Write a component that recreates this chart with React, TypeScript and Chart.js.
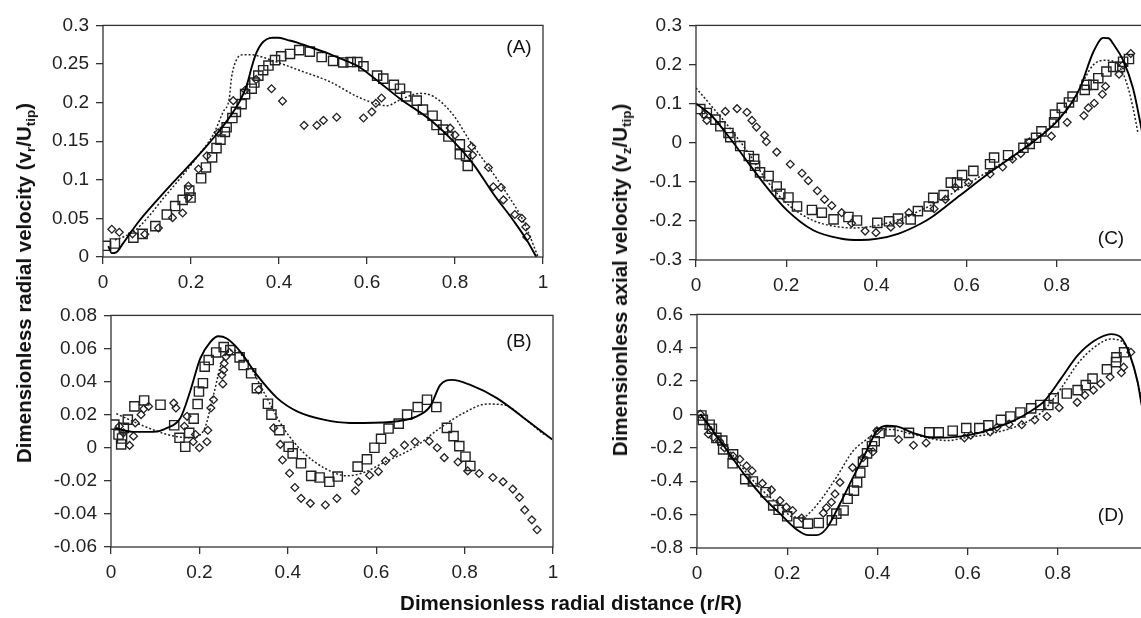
import React, { useEffect, useRef } from 'react';
import { Chart, registerables } from 'chart.js';

Chart.register(...registerables);

const FONT = '"Liberation Sans", Arial, Helvetica, sans-serif';

// ---------- tick values and labels ----------
const xTickValues = [0, 0.2, 0.4, 0.6, 0.8, 1];
const xTickLabels = ['0', '0.2', '0.4', '0.6', '0.8', '1'];
const aTickValues = [0, 0.05, 0.1, 0.15, 0.2, 0.25, 0.3];
const aTickLabels = ['0', '0.05', '0.1', '0.15', '0.2', '0.25', '0.3'];
const bTickValues = [-0.06, -0.04, -0.02, 0, 0.02, 0.04, 0.06, 0.08];
const bTickLabels = ['-0.06', '-0.04', '-0.02', '0', '0.02', '0.04', '0.06', '0.08'];
const cTickValues = [-0.3, -0.2, -0.1, 0, 0.1, 0.2, 0.3];
const cTickLabels = ['-0.3', '-0.2', '-0.1', '0', '0.1', '0.2', '0.3'];
const dTickValues = [-0.8, -0.6, -0.4, -0.2, 0, 0.2, 0.4, 0.6];
const dTickLabels = ['-0.8', '-0.6', '-0.4', '-0.2', '0', '0.2', '0.4', '0.6'];

// ---------- Panel A : radial velocity ----------
const aSqR = [0.007, 0.027, 0.069, 0.09, 0.119, 0.145, 0.164, 0.181, 0.196, 0.199, 0.223, 0.234, 0.248, 0.258, 0.267, 0.277, 0.281, 0.294, 0.302, 0.315, 0.323, 0.338, 0.344, 0.353, 0.364, 0.376, 0.391, 0.405, 0.425, 0.446, 0.47, 0.497, 0.523, 0.546, 0.563, 0.578, 0.592, 0.623, 0.637, 0.661, 0.675, 0.689, 0.713, 0.727, 0.749, 0.758, 0.773, 0.785, 0.811, 0.811, 0.825, 0.829];
const aSqV = [0.0145, 0.0175, 0.025, 0.03, 0.04, 0.055, 0.066, 0.074, 0.086, 0.077, 0.102, 0.116, 0.129, 0.141, 0.152, 0.162, 0.168, 0.18, 0.188, 0.198, 0.211, 0.218, 0.226, 0.235, 0.242, 0.248, 0.255, 0.26, 0.263, 0.268, 0.266, 0.259, 0.254, 0.252, 0.2525, 0.2525, 0.247, 0.235, 0.231, 0.223, 0.218, 0.208, 0.2025, 0.191, 0.183, 0.171, 0.165, 0.156, 0.146, 0.133, 0.131, 0.118];
const aDiR = [0.02, 0.037, 0.067, 0.095, 0.126, 0.158, 0.181, 0.194, 0.194, 0.217, 0.236, 0.262, 0.296, 0.323, 0.348, 0.383, 0.408, 0.457, 0.486, 0.501, 0.531, 0.592, 0.611, 0.62, 0.633, 0.789, 0.8, 0.838, 0.84, 0.876, 0.887, 0.905, 0.91, 0.936, 0.952, 0.961, 0.963];
const aDiV = [0.036, 0.032, 0.03, 0.0295, 0.0375, 0.051, 0.057, 0.077, 0.092, 0.114, 0.131, 0.161, 0.2025, 0.216, 0.23, 0.218, 0.202, 0.1705, 0.1705, 0.177, 0.181, 0.18, 0.188, 0.199, 0.206, 0.167, 0.158, 0.143, 0.132, 0.116, 0.091, 0.09, 0.074, 0.055, 0.05, 0.039, 0.026];
const aSolidR = [0.012, 0.02, 0.03, 0.046, 0.08, 0.122, 0.16, 0.198, 0.23, 0.258, 0.28, 0.296, 0.312, 0.327, 0.34, 0.349, 0.36, 0.372, 0.385, 0.398, 0.42, 0.44, 0.47, 0.501, 0.54, 0.577, 0.62, 0.675, 0.743, 0.796, 0.842, 0.887, 0.933, 0.963, 0.985];
const aSolidV = [0.014, 0.005, 0.006, 0.018, 0.045, 0.073, 0.097, 0.12, 0.14, 0.159, 0.175, 0.188, 0.203, 0.223, 0.25, 0.265, 0.276, 0.282, 0.284, 0.284, 0.281, 0.278, 0.272, 0.266, 0.257, 0.248, 0.23, 0.205, 0.178, 0.15, 0.12, 0.082, 0.047, 0.022, 0.0];
const aDotR = [0.027, 0.05, 0.07, 0.1, 0.14, 0.18, 0.22, 0.25, 0.273, 0.287, 0.292, 0.303, 0.319, 0.335, 0.349, 0.395, 0.455, 0.516, 0.577, 0.63, 0.645, 0.675, 0.72, 0.751, 0.796, 0.834, 0.872, 0.918, 0.955, 0.989];
const aDotV = [0.022, 0.027, 0.033, 0.05, 0.078, 0.105, 0.134, 0.158, 0.188, 0.2055, 0.232, 0.255, 0.262, 0.262, 0.261, 0.2525, 0.24, 0.227, 0.208, 0.197, 0.196, 0.2035, 0.212, 0.208, 0.184, 0.15, 0.12, 0.082, 0.047, 0.0];

// ---------- Panel B : radial velocity ----------
const bSqR = [0.0075, 0.017, 0.023, 0.025, 0.029, 0.038, 0.053, 0.075, 0.112, 0.143, 0.155, 0.168, 0.177, 0.187, 0.196, 0.199, 0.208, 0.212, 0.221, 0.238, 0.255, 0.27, 0.291, 0.3, 0.317, 0.33, 0.355, 0.363, 0.381, 0.402, 0.411, 0.43, 0.453, 0.472, 0.494, 0.513, 0.558, 0.579, 0.596, 0.611, 0.628, 0.651, 0.67, 0.694, 0.715, 0.736, 0.76, 0.775, 0.788, 0.802, 0.813];
const bSqV = [0.014, 0.008, 0.002, 0.0056, 0.012, 0.017, 0.025, 0.0286, 0.026, 0.0136, 0.006, 0.0006, 0.009, 0.0176, 0.0264, 0.034, 0.039, 0.049, 0.053, 0.0576, 0.0608, 0.059, 0.0546, 0.05, 0.045, 0.036, 0.0266, 0.02, 0.0106, 0.0006, -0.0034, -0.0094, -0.017, -0.018, -0.0206, -0.0174, -0.0114, -0.007, 0.0, 0.0054, 0.0116, 0.0146, 0.02, 0.0246, 0.029, 0.0246, 0.012, 0.007, 0.001, -0.0054, -0.011];
const bDiR = [0.019, 0.028, 0.042, 0.051, 0.055, 0.068, 0.074, 0.085, 0.142, 0.147, 0.166, 0.172, 0.186, 0.191, 0.2, 0.217, 0.219, 0.226, 0.232, 0.251, 0.253, 0.255, 0.256, 0.26, 0.268, 0.334, 0.368, 0.383, 0.388, 0.404, 0.416, 0.43, 0.451, 0.485, 0.511, 0.553, 0.56, 0.585, 0.605, 0.621, 0.64, 0.664, 0.688, 0.72, 0.738, 0.754, 0.785, 0.807, 0.833, 0.864, 0.887, 0.909, 0.924, 0.936, 0.952, 0.964];
const bDiV = [0.013, 0.009, 0.0014, 0.007, 0.015, 0.02, 0.0234, 0.025, 0.027, 0.024, 0.013, 0.019, 0.0036, 0.008, 0.0, 0.0036, 0.0106, 0.024, 0.029, 0.044, 0.0386, 0.047, 0.051, 0.055, 0.0576, 0.035, 0.012, 0.002, -0.0074, -0.0154, -0.024, -0.0306, -0.0336, -0.0346, -0.0306, -0.026, -0.0206, -0.0166, -0.0144, -0.008, -0.003, 0.0016, 0.0036, 0.004, 0.0, -0.006, -0.0086, -0.014, -0.0156, -0.018, -0.0206, -0.025, -0.03, -0.0376, -0.0436, -0.0496];
const bSolidR = [0.0075, 0.051, 0.096, 0.127, 0.157, 0.179, 0.202, 0.225, 0.243, 0.262, 0.293, 0.33, 0.376, 0.421, 0.481, 0.541, 0.572, 0.647, 0.692, 0.722, 0.745, 0.771, 0.813, 0.873, 0.934, 0.998];
const bSolidV = [0.012, 0.0096, 0.0096, 0.012, 0.018, 0.034, 0.054, 0.064, 0.0674, 0.066, 0.058, 0.044, 0.03, 0.022, 0.017, 0.015, 0.015, 0.016, 0.019, 0.025, 0.038, 0.041, 0.038, 0.03, 0.018, 0.005];
const bDotR = [0.012, 0.066, 0.127, 0.179, 0.209, 0.232, 0.251, 0.277, 0.308, 0.345, 0.39, 0.436, 0.481, 0.534, 0.572, 0.617, 0.685, 0.745, 0.798, 0.851, 0.888, 0.934, 0.979];
const bDotV = [0.0206, 0.014, 0.008, 0.006, 0.01, 0.032, 0.052, 0.059, 0.052, 0.034, 0.012, -0.003, -0.012, -0.017, -0.015, -0.009, 0.0, 0.012, 0.021, 0.0264, 0.026, 0.018, 0.008];

// ---------- Panel C : axial velocity ----------
const cSqR = [0.0095, 0.024, 0.043, 0.054, 0.072, 0.076, 0.098, 0.117, 0.129, 0.131, 0.142, 0.161, 0.179, 0.187, 0.205, 0.224, 0.257, 0.279, 0.305, 0.338, 0.357, 0.402, 0.428, 0.448, 0.476, 0.492, 0.516, 0.526, 0.549, 0.565, 0.579, 0.59, 0.615, 0.652, 0.661, 0.692, 0.726, 0.74, 0.754, 0.766, 0.794, 0.796, 0.811, 0.827, 0.835, 0.862, 0.866, 0.881, 0.892, 0.91, 0.925, 0.94, 0.947, 0.96];
const cSqV = [0.086, 0.076, 0.059, 0.042, 0.025, 0.014, -0.0085, -0.034, -0.042, -0.059, -0.076, -0.085, -0.112, -0.131, -0.14, -0.163, -0.172, -0.179, -0.196, -0.19, -0.199, -0.205, -0.201, -0.194, -0.196, -0.175, -0.163, -0.141, -0.134, -0.102, -0.102, -0.083, -0.072, -0.055, -0.038, -0.032, -0.013, -0.003, 0.0125, 0.029, 0.052, 0.072, 0.089, 0.103, 0.118, 0.135, 0.148, 0.148, 0.165, 0.182, 0.194, 0.194, 0.207, 0.214];
const cDiR = [0.017, 0.024, 0.065, 0.091, 0.113, 0.124, 0.134, 0.152, 0.156, 0.179, 0.209, 0.235, 0.249, 0.269, 0.285, 0.301, 0.323, 0.345, 0.375, 0.399, 0.432, 0.452, 0.472, 0.528, 0.553, 0.575, 0.604, 0.652, 0.68, 0.702, 0.72, 0.739, 0.788, 0.823, 0.86, 0.87, 0.883, 0.901, 0.908, 0.938, 0.947, 0.964];
const cDiV = [0.072, 0.057, 0.08, 0.087, 0.078, 0.057, 0.04, 0.019, 0.0025, -0.024, -0.055, -0.078, -0.097, -0.123, -0.145, -0.161, -0.179, -0.206, -0.226, -0.23, -0.216, -0.206, -0.179, -0.169, -0.145, -0.114, -0.102, -0.08, -0.062, -0.042, -0.028, 0.002, 0.0168, 0.052, 0.0693, 0.089, 0.101, 0.124, 0.144, 0.175, 0.199, 0.228];
const cSolidR = [0.0, 0.032, 0.069, 0.113, 0.157, 0.202, 0.26, 0.32, 0.364, 0.4, 0.448, 0.5, 0.528, 0.585, 0.659, 0.733, 0.807, 0.851, 0.881, 0.903, 0.915, 0.925, 0.947, 0.969, 0.986, 1.0];
const cSolidV = [0.1, 0.072, 0.021, -0.047, -0.114, -0.173, -0.224, -0.245, -0.249, -0.246, -0.233, -0.206, -0.186, -0.135, -0.07, -0.01, 0.063, 0.139, 0.232, 0.268, 0.267, 0.253, 0.211, 0.139, 0.046, -0.04];
const cDotR = [0.0, 0.032, 0.069, 0.113, 0.157, 0.202, 0.26, 0.32, 0.349, 0.4, 0.45, 0.5, 0.55, 0.6, 0.65, 0.7, 0.75, 0.8, 0.836, 0.858, 0.881, 0.907, 0.932, 0.954, 0.969, 0.98];
const cDotV = [0.14, 0.097, 0.046, -0.021, -0.097, -0.156, -0.199, -0.216, -0.218, -0.212, -0.196, -0.172, -0.142, -0.107, -0.072, -0.036, 0.004, 0.058, 0.105, 0.156, 0.199, 0.211, 0.203, 0.156, 0.089, 0.025];

// ---------- Panel D : axial velocity ----------
const dSqR = [0.0098, 0.013, 0.028, 0.033, 0.043, 0.056, 0.058, 0.079, 0.08, 0.107, 0.124, 0.152, 0.169, 0.181, 0.2, 0.225, 0.246, 0.27, 0.299, 0.309, 0.325, 0.334, 0.348, 0.355, 0.362, 0.368, 0.377, 0.388, 0.394, 0.405, 0.429, 0.47, 0.515, 0.536, 0.567, 0.597, 0.626, 0.646, 0.674, 0.695, 0.717, 0.741, 0.761, 0.779, 0.791, 0.82, 0.844, 0.862, 0.877, 0.909, 0.929, 0.93, 0.947];
const dSqV = [-0.006, -0.032, -0.061, -0.085, -0.14, -0.156, -0.209, -0.292, -0.239, -0.387, -0.401, -0.466, -0.545, -0.571, -0.61, -0.648, -0.654, -0.65, -0.634, -0.594, -0.575, -0.505, -0.456, -0.407, -0.348, -0.283, -0.233, -0.19, -0.16, -0.111, -0.101, -0.11, -0.107, -0.107, -0.097, -0.081, -0.081, -0.065, -0.032, -0.012, 0.012, 0.037, 0.057, 0.057, 0.097, 0.126, 0.146, 0.176, 0.215, 0.271, 0.314, 0.343, 0.373];
const dDiR = [0.0075, 0.025, 0.036, 0.05, 0.061, 0.08, 0.095, 0.11, 0.122, 0.145, 0.165, 0.184, 0.198, 0.212, 0.232, 0.28, 0.287, 0.298, 0.306, 0.317, 0.345, 0.368, 0.39, 0.399, 0.447, 0.48, 0.508, 0.593, 0.607, 0.65, 0.665, 0.692, 0.72, 0.749, 0.776, 0.803, 0.843, 0.86, 0.879, 0.895, 0.916, 0.941, 0.946, 0.962];
const dDiV = [0.002, -0.117, -0.136, -0.16, -0.2, -0.249, -0.268, -0.308, -0.338, -0.413, -0.452, -0.516, -0.555, -0.575, -0.62, -0.591, -0.559, -0.526, -0.476, -0.407, -0.318, -0.259, -0.223, -0.097, -0.15, -0.184, -0.17, -0.14, -0.124, -0.105, -0.077, -0.058, -0.061, -0.032, -0.012, 0.041, 0.073, 0.116, 0.146, 0.185, 0.225, 0.25, 0.284, 0.373];
const dSolidR = [0.0075, 0.036, 0.073, 0.11, 0.147, 0.184, 0.221, 0.247, 0.265, 0.287, 0.317, 0.346, 0.376, 0.398, 0.42, 0.443, 0.48, 0.524, 0.576, 0.6, 0.65, 0.7, 0.74, 0.77, 0.807, 0.844, 0.881, 0.918, 0.94, 0.959, 0.977, 0.986, 1.0];
const dSolidV = [0.002, -0.101, -0.239, -0.377, -0.496, -0.594, -0.689, -0.723, -0.723, -0.683, -0.535, -0.377, -0.219, -0.101, -0.067, -0.071, -0.111, -0.14, -0.134, -0.125, -0.09, -0.04, 0.02, 0.08, 0.215, 0.354, 0.442, 0.482, 0.462, 0.363, 0.195, 0.057, -0.1];
const dDotR = [0.0075, 0.036, 0.073, 0.11, 0.147, 0.184, 0.213, 0.235, 0.255, 0.279, 0.309, 0.346, 0.376, 0.405, 0.43, 0.48, 0.554, 0.593, 0.659, 0.733, 0.77, 0.807, 0.844, 0.881, 0.918, 0.94, 0.959, 0.977, 0.986, 1.0];
const dDotV = [0.002, -0.09, -0.22, -0.35, -0.46, -0.545, -0.614, -0.615, -0.575, -0.496, -0.377, -0.219, -0.15, -0.095, -0.09, -0.12, -0.156, -0.14, -0.111, -0.042, 0.028, 0.156, 0.304, 0.403, 0.452, 0.442, 0.363, 0.195, 0.085, -0.05];

type Rect = { l: number; t: number; r: number; b: number };
type PanelDef = {
  rect: Rect;
  yMin: number;
  yMax: number;
  yVals: number[];
  yLabels: string[];
  sq: [number[], number[]];
  di: [number[], number[]];
  solid: [number[], number[]];
  dot: [number[], number[]];
};

const YW = 100;
const PT = 16;
const PR = 22;
const XH = 44;

const framePlugin = {
  id: 'frame',
  afterDraw(chart: any) {
    const { ctx, chartArea } = chart;
    ctx.save();
    ctx.strokeStyle = '#333';
    ctx.lineWidth = 1.3;
    ctx.strokeRect(chartArea.left, chartArea.top, chartArea.right - chartArea.left, chartArea.bottom - chartArea.top);
    ctx.restore();
  },
};

function pts(xs: number[], ys: number[]) {
  return xs.map((x, i) => ({ x, y: ys[i] }));
}

function Panel({ def }: { def: PanelDef }) {
  const ref = useRef<HTMLCanvasElement>(null);
  const { rect } = def;
  const left = rect.l - YW;
  const top = rect.t - PT;
  const width = Math.round(rect.r - rect.l + YW + PR);
  const height = Math.round(rect.b - rect.t + PT + XH);

  useEffect(() => {
    if (!ref.current) return;
    const tickFont = { family: FONT, size: 19 };
    const chart = new Chart(ref.current, {
      type: 'scatter',
      data: {
        datasets: [
          {
            data: pts(def.solid[0], def.solid[1]),
            showLine: true,
            pointRadius: 0,
            borderColor: '#000',
            borderWidth: 1.9,
            cubicInterpolationMode: 'monotone',
          },
          {
            data: pts(def.dot[0], def.dot[1]),
            showLine: true,
            pointRadius: 0,
            borderColor: '#222',
            borderWidth: 1.5,
            borderDash: [2, 2],
            cubicInterpolationMode: 'monotone',
          },
          {
            data: pts(def.sq[0], def.sq[1]),
            showLine: false,
            pointStyle: 'rect',
            pointRadius: 6.5,
            pointBorderWidth: 1.4,
            pointBorderColor: '#222',
            pointBackgroundColor: 'rgba(255,255,255,0)',
          },
          {
            data: pts(def.di[0], def.di[1]),
            showLine: false,
            pointStyle: 'rectRot',
            pointRadius: 3.9,
            pointBorderWidth: 1.3,
            pointBorderColor: '#222',
            pointBackgroundColor: 'rgba(255,255,255,0)',
          },
        ] as any,
      },
      options: {
        responsive: false,
        animation: false,
        devicePixelRatio: 1,
        events: [],
        layout: { padding: { top: PT, right: PR, left: 0, bottom: 0 } },
        plugins: { legend: { display: false }, tooltip: { enabled: false } },
        scales: {
          x: {
            type: 'linear',
            min: 0,
            max: 1,
            afterBuildTicks: (s: any) => {
              s.ticks = xTickValues.map((v) => ({ value: v }));
            },
            afterFit: (s: any) => {
              s.height = XH;
            },
            ticks: {
              callback: (_v: any, i: number) => xTickLabels[i],
              font: tickFont,
              color: '#222',
              padding: 7,
              maxRotation: 0,
              autoSkip: false,
            },
            grid: { drawOnChartArea: false, drawTicks: true, tickLength: 7, color: '#333', lineWidth: 1.3 },
            border: { display: false },
          },
          y: {
            type: 'linear',
            min: def.yMin,
            max: def.yMax,
            afterBuildTicks: (s: any) => {
              s.ticks = def.yVals.map((v) => ({ value: v }));
            },
            afterFit: (s: any) => {
              s.width = YW;
            },
            ticks: {
              callback: (_v: any, i: number) => def.yLabels[i],
              font: tickFont,
              color: '#222',
              padding: 7,
              autoSkip: false,
            },
            grid: { drawOnChartArea: false, drawTicks: true, tickLength: 7, color: '#333', lineWidth: 1.3 },
            border: { display: false },
          },
        },
      } as any,
      plugins: [framePlugin],
    });
    return () => chart.destroy();
  }, []);

  return (
    <canvas
      ref={ref}
      width={width}
      height={height}
      style={{ position: 'absolute', left, top, width, height }}
    />
  );
}

const panels: PanelDef[] = [
  {
    rect: { l: 103, t: 23, r: 543, b: 257 },
    yMin: 0, yMax: 0.3, yVals: aTickValues, yLabels: aTickLabels,
    sq: [aSqR, aSqV], di: [aDiR, aDiV], solid: [aSolidR, aSolidV], dot: [aDotR, aDotV],
  },
  {
    rect: { l: 111, t: 313, r: 553, b: 547 },
    yMin: -0.06, yMax: 0.08, yVals: bTickValues, yLabels: bTickLabels,
    sq: [bSqR, bSqV], di: [bDiR, bDiV], solid: [bSolidR, bSolidV], dot: [bDotR, bDotV],
  },
  {
    rect: { l: 696, t: 23, r: 1147, b: 260 },
    yMin: -0.3, yMax: 0.3, yVals: cTickValues, yLabels: cTickLabels,
    sq: [cSqR, cSqV], di: [cDiR, cDiV], solid: [cSolidR, cSolidV], dot: [cDotR, cDotV],
  },
  {
    rect: { l: 697, t: 312, r: 1148, b: 548 },
    yMin: -0.8, yMax: 0.6, yVals: dTickValues, yLabels: dTickLabels,
    sq: [dSqR, dSqV], di: [dDiR, dDiV], solid: [dSolidR, dSolidV], dot: [dDotR, dDotV],
  },
];

const panelLabels = [
  { text: '(A)', x: 519, y: 47 },
  { text: '(B)', x: 519, y: 341 },
  { text: '(C)', x: 1111, y: 238 },
  { text: '(D)', x: 1111, y: 515 },
];

const titleStyle: React.CSSProperties = {
  position: 'absolute',
  fontFamily: FONT,
  fontWeight: 'bold',
  fontSize: 20.5,
  color: '#111',
  whiteSpace: 'nowrap',
  lineHeight: '24px',
};

const subStyle: React.CSSProperties = { fontSize: 13.5, verticalAlign: '-4px', lineHeight: 0 };

export default function App() {
  return (
    <div
      style={{
        position: 'fixed',
        left: 0,
        top: 0,
        width: 1141,
        height: 618,
        overflow: 'hidden',
        background: '#fff',
      }}
    >
      {panels.map((p, i) => (
        <Panel key={i} def={p} />
      ))}
      {panelLabels.map((l) => (
        <div
          key={l.text}
          style={{
            position: 'absolute',
            left: l.x,
            top: l.y,
            transform: 'translate(-50%, -50%)',
            fontFamily: FONT,
            fontSize: 19,
            color: '#111',
            whiteSpace: 'nowrap',
          }}
        >
          {l.text}
        </div>
      ))}
      <div style={{ ...titleStyle, left: 24, top: 283, transform: 'translate(-50%, -50%) rotate(-90deg)' }}>
        Dimensionless radial velocity (v<span style={subStyle}>r</span>/U<span style={subStyle}>tip</span>)
      </div>
      <div style={{ ...titleStyle, left: 620, top: 280, transform: 'translate(-50%, -50%) rotate(-90deg)' }}>
        Dimensionless axial velocity (v<span style={subStyle}>z</span>/U<span style={subStyle}>tip</span>)
      </div>
      <div style={{ ...titleStyle, left: 571, top: 603, transform: 'translate(-50%, -50%)' }}>
        Dimensionless radial distance (r/R)
      </div>
    </div>
  );
}
